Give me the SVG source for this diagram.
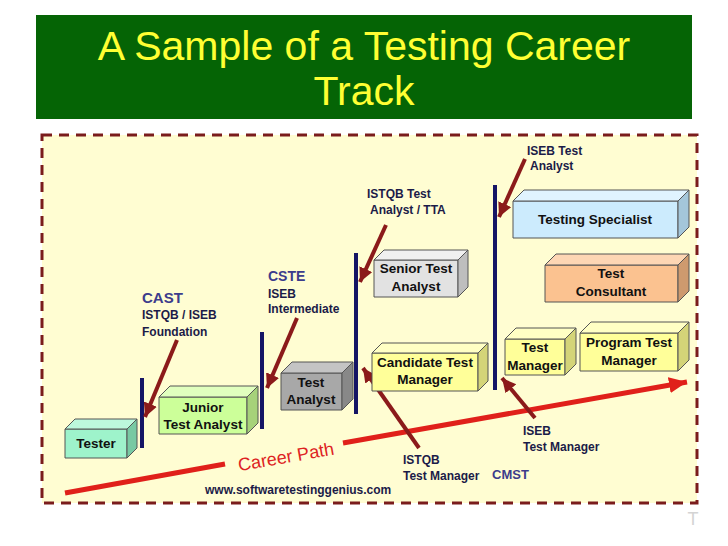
<svg xmlns="http://www.w3.org/2000/svg" width="728" height="546" viewBox="0 0 728 546">
<defs>
<style>
.title{font-family:"Liberation Sans",Arial,sans-serif;font-size:41px;fill:#FFFF33;text-anchor:middle}
.bx{font-family:"Liberation Sans",Arial,sans-serif;font-size:13.5px;font-weight:bold;fill:#111;text-anchor:middle}
.cert{font-family:"Liberation Sans",Arial,sans-serif;font-size:12px;font-weight:bold;fill:#1B1B48}
.code{font-family:"Liberation Sans",Arial,sans-serif;font-weight:bold;fill:#3C3C8C}
.edge{stroke:#555;stroke-width:1;stroke-linejoin:round}
.bar{stroke:#151565;stroke-width:4}
.cert-arrow{stroke:#8B1A1A;stroke-width:4;fill:none;marker-end:url(#ah)}
.path{stroke:#E0201A;stroke-width:5;fill:none}
</style>
<marker id="ah" markerUnits="userSpaceOnUse" markerWidth="16" markerHeight="16" refX="14" refY="7" orient="auto">
<path d="M0,0 L14,7 L0,14 z" fill="#8B1A1A"/>
</marker>
<marker id="rh" markerUnits="userSpaceOnUse" markerWidth="20" markerHeight="20" refX="18" refY="8" orient="auto">
<path d="M0,0 L18,8 L0,16 z" fill="#E0201A"/>
</marker>
</defs>

<rect x="0" y="0" width="728" height="546" fill="#FFFFFF"/>
<g id="title">
<rect x="36" y="15" width="656" height="104" fill="#056405"/>
<text class="title" x="364" y="60">A Sample of a Testing Career</text>
<text class="title" x="364" y="105">Track</text>
</g>

<rect x="42" y="135" width="655" height="368" fill="#FFFDD2" stroke="#7A1C1C" stroke-width="3" stroke-dasharray="10 7"/>

<g id="connectors">
<line class="bar" x1="142" y1="378" x2="142" y2="448"/>
<line class="bar" x1="262" y1="332" x2="262" y2="429"/>
<line class="bar" x1="356" y1="253" x2="356" y2="414"/>
<line class="bar" x1="495" y1="185" x2="495" y2="390"/>
<line class="path" x1="65" y1="493" x2="225" y2="464"/>
<line class="path" x1="343" y1="443" x2="687" y2="382" marker-end="url(#rh)"/>
<line class="cert-arrow" x1="177" y1="340" x2="145" y2="417"/>
<line class="cert-arrow" x1="297" y1="318" x2="267" y2="388"/>
<line class="cert-arrow" x1="386" y1="225" x2="360" y2="282"/>
<line class="cert-arrow" x1="525" y1="159" x2="499" y2="217"/>
<line class="cert-arrow" x1="419" y1="448" x2="363" y2="368"/>
<line class="cert-arrow" x1="535" y1="418" x2="502" y2="378"/>
</g>

<g id="career-path-label">
<text x="286" y="463" transform="rotate(-10 286 457)" font-family="'Liberation Sans',Arial,sans-serif" font-size="18" fill="#DD2222" text-anchor="middle">Career Path</text>
</g>

<g id="tester">
<rect class="edge" x="65" y="429" width="62" height="29" fill="#9EF3CB"/>
<polygon class="edge" points="65,429 75,419 137,419 127,429" fill="#BDF8DC"/>
<polygon class="edge" points="127,429 137,419 137,448 127,458" fill="#78C9A3"/>
<text class="bx" x="96" y="448">Tester</text>
</g>

<g id="junior-test-analyst">
<rect class="edge" x="159" y="397" width="88" height="37" fill="#CCFF99"/>
<polygon class="edge" points="159,397 170,386 258,386 247,397" fill="#E0FFBE"/>
<polygon class="edge" points="247,397 258,386 258,423 247,434" fill="#A6D27A"/>
<text class="bx" x="203" y="412">Junior</text>
<text class="bx" x="203" y="429">Test Analyst</text>
</g>

<g id="test-analyst">
<rect class="edge" x="281" y="373" width="61" height="37" fill="#A8A8A8"/>
<polygon class="edge" points="281,373 292,362 353,362 342,373" fill="#C4C4C4"/>
<polygon class="edge" points="342,373 353,362 353,399 342,410" fill="#888888"/>
<text class="bx" x="311" y="387">Test</text>
<text class="bx" x="311" y="404">Analyst</text>
</g>

<g id="senior-test-analyst">
<rect class="edge" x="374" y="260" width="84" height="37" fill="#E2E2E2"/>
<polygon class="edge" points="374,260 384,250 468,250 458,260" fill="#F0F0F0"/>
<polygon class="edge" points="458,260 468,250 468,287 458,297" fill="#BEBEBE"/>
<text class="bx" x="416" y="273">Senior Test</text>
<text class="bx" x="416" y="291">Analyst</text>
</g>

<g id="candidate-test-manager">
<rect class="edge" x="372" y="353" width="106" height="38" fill="#FFFF99"/>
<polygon class="edge" points="372,353 382,343 488,343 478,353" fill="#FFFFC4"/>
<polygon class="edge" points="478,353 488,343 488,381 478,391" fill="#D4D478"/>
<text class="bx" x="425" y="367">Candidate Test</text>
<text class="bx" x="425" y="384">Manager</text>
</g>

<g id="test-manager">
<rect class="edge" x="505" y="339" width="60" height="36" fill="#FFFF99"/>
<polygon class="edge" points="505,339 516,328 576,328 565,339" fill="#FFFFC4"/>
<polygon class="edge" points="565,339 576,328 576,364 565,375" fill="#D4D478"/>
<text class="bx" x="535" y="352">Test</text>
<text class="bx" x="535" y="370">Manager</text>
</g>

<g id="program-test-manager">
<rect class="edge" x="580" y="333" width="98" height="38" fill="#FFFF99"/>
<polygon class="edge" points="580,333 591,322 689,322 678,333" fill="#FFFFC4"/>
<polygon class="edge" points="678,333 689,322 689,360 678,371" fill="#D4D478"/>
<text class="bx" x="629" y="347">Program Test</text>
<text class="bx" x="629" y="365">Manager</text>
</g>

<g id="testing-specialist">
<rect class="edge" x="513" y="201" width="165" height="37" fill="#CCEBFD"/>
<polygon class="edge" points="513,201 524,190 689,190 678,201" fill="#E0F3FF"/>
<polygon class="edge" points="678,201 689,190 689,227 678,238" fill="#A4C6DA"/>
<text class="bx" x="595" y="224">Testing Specialist</text>
</g>

<g id="test-consultant">
<rect class="edge" x="545" y="265" width="133" height="37" fill="#FBC290"/>
<polygon class="edge" points="545,265 556,254 689,254 678,265" fill="#FDD6B4"/>
<polygon class="edge" points="678,265 689,254 689,291 678,302" fill="#CE9A6E"/>
<text class="bx" x="611" y="278">Test</text>
<text class="bx" x="611" y="296">Consultant</text>
</g>

<g id="labels">
<text class="code" x="142" y="303" font-size="15">CAST</text>
<text class="cert" x="142" y="319">ISTQB / ISEB</text>
<text class="cert" x="142" y="336">Foundation</text>
<text class="code" x="268" y="281" font-size="14">CSTE</text>
<text class="cert" x="268" y="298">ISEB</text>
<text class="cert" x="268" y="313">Intermediate</text>
<text class="cert" x="367" y="198">ISTQB Test</text>
<text class="cert" x="370" y="214">Analyst / TTA</text>
<text class="cert" x="527" y="155">ISEB Test</text>
<text class="cert" x="530" y="170">Analyst</text>
<text class="cert" x="403" y="464">ISTQB</text>
<text class="cert" x="403" y="480">Test Manager</text>
<text class="code" x="492" y="479" font-size="13">CMST</text>
<text class="cert" x="523" y="435">ISEB</text>
<text class="cert" x="523" y="451">Test Manager</text>
<text class="cert" x="205" y="494">www.softwaretestinggenius.com</text>
<text x="693" y="525" font-family="'Liberation Sans',Arial,sans-serif" font-size="18" fill="#D4D4D4" text-anchor="middle">T</text>
</g>
</svg>
